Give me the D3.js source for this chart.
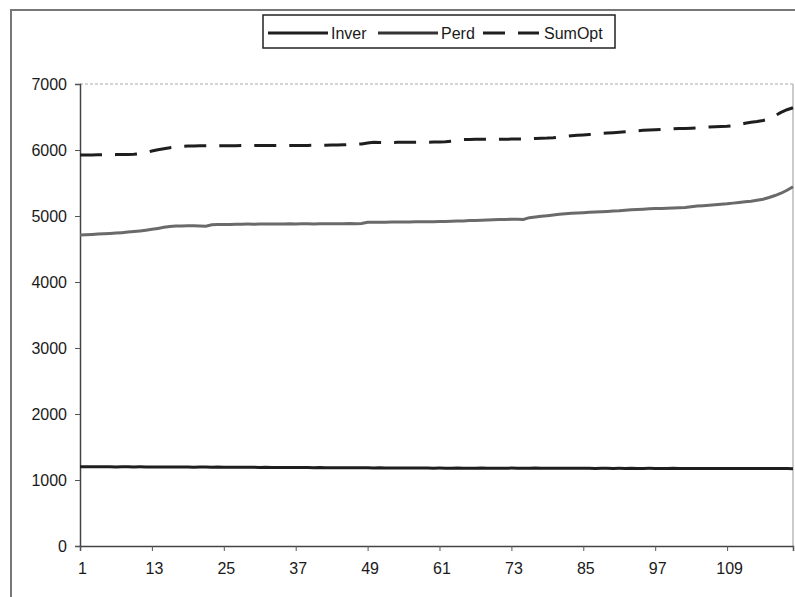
<!DOCTYPE html>
<html>
<head>
<meta charset="utf-8">
<script src="https://cdn.jsdelivr.net/npm/d3@7"></script>
<style>
  body { margin: 0; background: #fff; }
  svg { font-family: "Liberation Sans", Arial, sans-serif; }
</style>
</head>
<body>
<div id="chart"></div>
<script>
// values, one per period (120 periods)
const inver = [
  1201,1200,1199,1201,1200,1199,1198,1200,1199,1198,1199,1198,
  1197,1198,1197,1196,1198,1197,1196,1195,1197,1196,1195,1196,
  1194,1195,1193,1194,1192,1193,1191,1192,1190,1191,1190,1189,
  1190,1188,1189,1187,1188,1186,1187,1186,1185,1186,1184,1185,
  1184,1183,1184,1182,1183,1181,1182,1181,1180,1181,1180,1179,
  1180,1179,1178,1180,1179,1178,1179,1180,1178,1179,1178,1179,
  1180,1179,1178,1179,1180,1178,1177,1179,1178,1177,1178,1179,
  1177,1178,1176,1177,1178,1176,1177,1176,1177,1175,1176,1177,
  1176,1175,1176,1177,1175,1176,1175,1174,1176,1175,1174,1175,
  1176,1174,1175,1174,1175,1173,1174,1175,1174,1173,1174,1172
];
const perd = [
  4712,4715,4720,4726,4730,4735,4741,4748,4756,4765,4774,4785,
  4798,4812,4828,4842,4848,4850,4852,4851,4849,4845,4866,4870,
  4872,4873,4875,4876,4877,4876,4878,4879,4878,4880,4879,4881,
  4880,4882,4881,4880,4882,4883,4882,4884,4883,4885,4884,4886,
  4905,4906,4907,4906,4908,4909,4910,4909,4911,4912,4913,4914,
  4916,4918,4920,4923,4926,4930,4933,4936,4940,4943,4946,4948,
  4950,4952,4948,4975,4985,4995,5005,5015,5025,5035,5040,5045,
  5050,5055,5060,5066,5070,5075,5080,5088,5095,5100,5104,5108,
  5112,5115,5118,5122,5126,5130,5140,5150,5155,5162,5170,5178,
  5185,5195,5205,5215,5225,5240,5255,5280,5310,5345,5390,5444
];
const sumOpt = [
  5924,5925,5926,5927,5928,5929,5930,5931,5933,5935,5945,5960,
  5985,6005,6020,6035,6045,6055,6060,6062,6063,6064,6065,6065,
  6066,6066,6066,6067,6067,6067,6068,6068,6068,6068,6069,6069,
  6069,6070,6070,6071,6072,6073,6074,6076,6078,6082,6086,6092,
  6105,6118,6115,6114,6115,6116,6117,6117,6118,6118,6119,6120,
  6122,6125,6132,6145,6158,6160,6161,6162,6162,6163,6163,6164,
  6165,6166,6167,6170,6174,6177,6180,6186,6195,6205,6215,6222,
  6228,6235,6242,6250,6256,6262,6268,6275,6283,6292,6298,6303,
  6306,6310,6315,6320,6324,6327,6331,6336,6342,6348,6353,6356,
  6360,6368,6385,6405,6420,6432,6448,6470,6520,6570,6610,6640
];
const periods = d3.range(1, 121);
const xTicks = [1, 13, 25, 37, 49, 61, 73, 85, 97, 109, 120];
const yTicks = [0, 1000, 2000, 3000, 4000, 5000, 6000, 7000];

const series = [
  { name: "Inver", values: inver, color: "#1e1e1e", dash: null },
  { name: "Perd", values: perd, color: "#6a6a6a", dash: null },
  { name: "SumOpt", values: sumOpt, color: "#1e1e1e", dash: "22,13" }
];

const W = 795, H = 597;
const plotL = 80, plotR = 793, plotT = 84, plotB = 546;

const svg = d3.select("#chart").append("svg")
  .attr("width", W).attr("height", H);

// outer chart frame (cut off at right/bottom)
svg.append("path")
  .attr("d", `M11,${H + 5}V10H${W + 5}`)
  .attr("fill", "none").attr("stroke", "#777").attr("stroke-width", 2);

const x = d3.scaleLinear().domain([1, 120]).range([plotL, plotR]);
const y = d3.scaleLinear().domain([0, 7000]).range([plotB, plotT]);

// top gridline + right plot border
svg.append("line")
  .attr("x1", plotL).attr("x2", plotR).attr("y1", y(7000)).attr("y2", y(7000))
  .attr("stroke", "#aaa").attr("stroke-dasharray", "3,2");
svg.append("line")
  .attr("x1", plotR).attr("x2", plotR).attr("y1", plotT).attr("y2", plotB)
  .attr("stroke", "#bbb").attr("stroke-width", 1.5);

const yAxis = svg.append("g")
  .attr("transform", `translate(${plotL},0)`)
  .call(d3.axisLeft(y).tickValues(yTicks).tickSize(5).tickPadding(8)
    .tickFormat(d3.format("d")));
yAxis.selectAll("text").attr("font-size", 16).attr("fill", "#1a1a1a");

const xAxis = svg.append("g")
  .attr("transform", `translate(0,${plotB})`)
  .call(d3.axisBottom(x).tickValues(xTicks).tickSize(5).tickPadding(12)
    .tickFormat(d => d === 120 ? "" : d));
xAxis.selectAll("text").attr("font-size", 16).attr("fill", "#1a1a1a")
  .attr("dx", 2);

svg.selectAll(".domain").attr("stroke", "#444").attr("stroke-width", 1.5);
svg.selectAll(".tick line").attr("stroke", "#555");

const line = d3.line()
  .x((d, i) => x(periods[i]))
  .y(d => y(d));

svg.selectAll(".series")
  .data(series)
  .join("path")
  .attr("class", "series")
  .attr("d", d => line(d.values))
  .attr("fill", "none")
  .attr("stroke", d => d.color)
  .attr("stroke-width", 3)
  .attr("stroke-dasharray", d => d.dash);

// legend
const legend = svg.append("g");
legend.append("rect")
  .attr("x", 263).attr("y", 15).attr("width", 352).attr("height", 33)
  .attr("fill", "#fff").attr("stroke", "#222").attr("stroke-width", 1.5);

const legendX = [268, 378, 483];
const item = legend.selectAll(".item")
  .data(series)
  .join("g")
  .attr("transform", (d, i) => `translate(${legendX[i]},33)`);
item.append("line")
  .attr("x1", 0).attr("x2", d => d.dash ? 56 : 60)
  .attr("stroke", d => d.name === "Perd" ? "#333" : d.color)
  .attr("stroke-width", 3)
  .attr("stroke-dasharray", d => d.dash ? "22,13" : null);
item.append("text")
  .attr("x", d => d.dash ? 61 : 63)
  .attr("dy", "0.35em")
  .attr("font-size", 16)
  .attr("fill", "#1a1a1a")
  .text(d => d.name);
</script>
</body>
</html>
